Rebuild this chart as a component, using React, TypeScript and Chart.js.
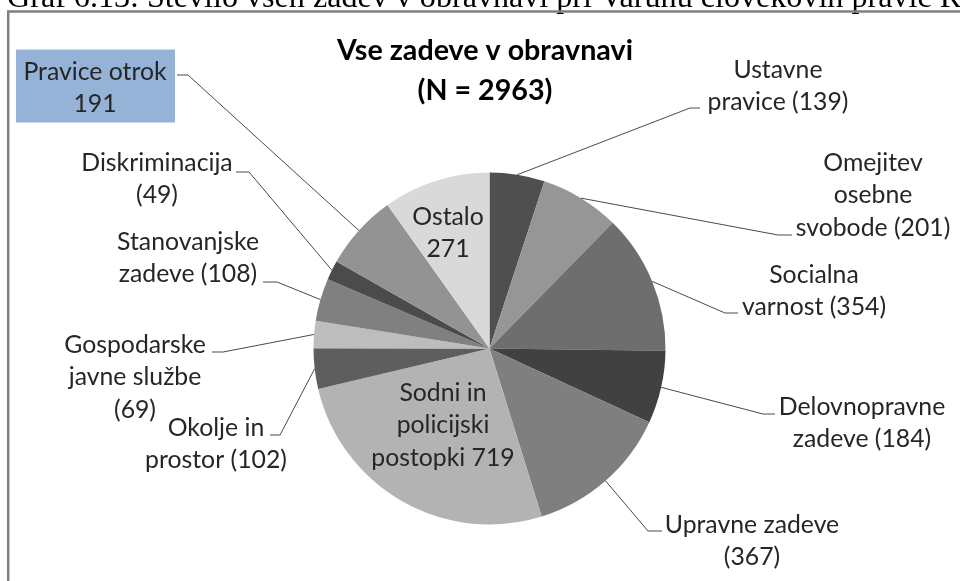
import React, { useEffect, useRef } from "react";
import { Chart, registerables } from "chart.js";
Chart.register(...registerables);

// ---- data ----
const categories = [
  "Ustavne pravice",
  "Omejitev osebne svobode",
  "Socialna varnost",
  "Delovnopravne zadeve",
  "Upravne zadeve",
  "Sodni in policijski postopki",
  "Okolje in prostor",
  "Gospodarske javne službe",
  "Stanovanjske zadeve",
  "Diskriminacija",
  "Pravice otrok",
  "Ostalo",
];
const values = [139, 201, 354, 184, 367, 719, 102, 69, 108, 49, 191, 271];
const totalN = 2963;
const headerText = "Graf 6.13: Število vseh zadev v obravnavi pri Varuhu človekovih pravic RS";
const titleLines = ["Vse zadeve v obravnavi", `(N = ${totalN})`];
const labelLines: string[][] = [
  ["Ustavne", `pravice (${values[0]})`],
  ["Omejitev", "osebne", `svobode (${values[1]})`],
  ["Socialna", `varnost (${values[2]})`],
  ["Delovnopravne", `zadeve (${values[3]})`],
  ["Upravne zadeve", `(${values[4]})`],
  ["Sodni in", "policijski", `postopki ${values[5]}`],
  ["Okolje in", `prostor (${values[6]})`],
  ["Gospodarske", "javne službe", `(${values[7]})`],
  ["Stanovanjske", `zadeve (${values[8]})`],
  ["Diskriminacija", `(${values[9]})`],
  ["Pravice otrok", `${values[10]}`],
  ["Ostalo", `${values[11]}`],
];

// ---- styles / layout ----
const colors = [
  "#4f4f4f", "#969696", "#6e6e6e", "#414141", "#7f7f7f", "#b3b3b3",
  "#5e5e5e", "#bdbdbd", "#808080", "#4b4b4b", "#939393", "#d9d9d9",
];
type Lay = { cx: number; y0: number; stub?: [number, number, number]; side?: "L" | "R" };
const layout: Lay[] = [
  { cx: 778, y0: 70, stub: [690, 700, 108], side: "R" },
  { cx: 873, y0: 163, stub: [778, 792, 235], side: "R" },
  { cx: 814, y0: 275, stub: [725, 738, 313], side: "R" },
  { cx: 862, y0: 407, stub: [763, 775, 414], side: "R" },
  { cx: 752, y0: 525, stub: [648, 662, 531], side: "R" },
  { cx: 443, y0: 393 },
  { cx: 216, y0: 428, stub: [270, 280, 435], side: "L" },
  { cx: 135, y0: 345, stub: [212, 223, 352], side: "L" },
  { cx: 188, y0: 242, stub: [263, 277, 282], side: "L" },
  { cx: 157, y0: 163, stub: [236, 249, 172], side: "L" },
  { cx: 95, y0: 72, stub: [177, 188, 75], side: "L" },
  { cx: 448, y0: 217 },
];
const lineGap = 32.5;
const labelFamily = "Lato, 'Open Sans', sans-serif";

function fitSize(ctx: CanvasRenderingContext2D, text: string, target: number, weight: string, family: string) {
  ctx.font = `${weight} 100px ${family}`;
  const w = ctx.measureText(text).width;
  return (100 * target) / w;
}

const decorPlugin = {
  id: "decor",
  beforeDraw(chart: any) {
    const ctx: CanvasRenderingContext2D = chart.ctx;
    ctx.save();
    ctx.fillStyle = "#ffffff";
    ctx.fillRect(0, 0, chart.width, chart.height);
    // header (cut at top)
    const hs = fitSize(ctx, "Graf 6.13: Število vseh zadev v obravnavi pri Varuhu človekovih pravic ", 933, "normal", "'Liberation Serif', serif");
    ctx.font = `normal ${hs}px 'Liberation Serif', serif`;
    ctx.fillStyle = "#000000";
    ctx.textAlign = "left";
    ctx.textBaseline = "alphabetic";
    ctx.fillText(headerText, 7, 6.5);
    // chart border
    ctx.strokeStyle = "#808080";
    ctx.lineWidth = 2.5;
    ctx.beginPath();
    ctx.moveTo(8.2, 600);
    ctx.lineTo(8.2, 11.5);
    ctx.lineTo(1000, 11.5);
    ctx.stroke();
    // blue box behind "Pravice otrok"
    ctx.fillStyle = "#95b3d7";
    ctx.fillRect(16, 49.5, 159, 73);
    ctx.restore();
  },
  afterDraw(chart: any) {
    const ctx: CanvasRenderingContext2D = chart.ctx;
    const meta = chart.getDatasetMeta(0);
    ctx.save();
    // title
    const ts = fitSize(ctx, titleLines[0], 296, "bold", labelFamily);
    ctx.font = `bold ${ts}px ${labelFamily}`;
    ctx.fillStyle = "#000000";
    ctx.textAlign = "center";
    ctx.textBaseline = "alphabetic";
    ctx.fillText(titleLines[0], 485, 60);
    ctx.fillText(titleLines[1], 485, 100);

    const ls = fitSize(ctx, "Stanovanjske", 142, "normal", labelFamily);
    ctx.font = `normal ${ls}px ${labelFamily}`;
    ctx.textBaseline = "middle";
    meta.data.forEach((arc: any, i: number) => {
      const L = layout[i];
      const p = arc.getProps(["x", "y", "startAngle", "endAngle", "outerRadius"], true);
      const mid = (p.startAngle + p.endAngle) / 2;
      if (L.stub) {
        const ax = p.x + Math.cos(mid) * p.outerRadius;
        const ay = p.y + Math.sin(mid) * p.outerRadius;
        const [x1, x2, sy] = L.stub;
        const inner = L.side === "L" ? x2 : x1;
        const outer = L.side === "L" ? x1 : x2;
        ctx.strokeStyle = "#4a4a4a";
        ctx.lineWidth = 1;
        ctx.beginPath();
        ctx.moveTo(ax, ay);
        ctx.lineTo(inner, sy);
        ctx.lineTo(outer, sy);
        ctx.stroke();
      }
      ctx.fillStyle = "#262626";
      labelLines[i].forEach((t, k) => {
        ctx.fillText(t, L.cx, L.y0 + k * lineGap);
      });
    });
    ctx.restore();
  },
};

export default function App() {
  const ref = useRef<HTMLCanvasElement>(null);
  useEffect(() => {
    if (!ref.current) return;
    const chart = new Chart(ref.current, {
      type: "pie",
      data: {
        labels: categories,
        datasets: [{ data: values, backgroundColor: colors, borderWidth: 0 }],
      },
      options: {
        responsive: false,
        animation: false,
        devicePixelRatio: 1,
        layout: { padding: { left: 313.5, right: 294.5, top: 172.5, bottom: 56.5 } },
        plugins: { legend: { display: false }, tooltip: { enabled: false }, title: { display: false } },
      },
      plugins: [decorPlugin],
    });
    return () => chart.destroy();
  }, []);
  return (
    <div style={{ position: "absolute", left: 0, top: 0, width: 960, height: 581, background: "#fff" }}>
      <canvas ref={ref} width={960} height={581} style={{ display: "block" }} />
    </div>
  );
}
